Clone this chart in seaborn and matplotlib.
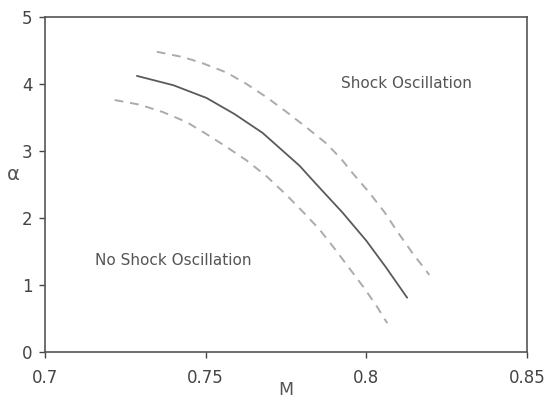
import matplotlib
matplotlib.use("Agg")
import matplotlib.pyplot as plt
import seaborn as sns
import pandas as pd

# Boundary of the shock-oscillation onset region (alpha vs Mach number)
mach_mid = [0.7286, 0.7400, 0.7503, 0.7590, 0.7677, 0.7792,
            0.7845, 0.7926, 0.8000, 0.8060, 0.8127]
alpha_mid = [4.12, 3.98, 3.79, 3.55, 3.27, 2.78,
             2.50, 2.08, 1.66, 1.27, 0.81]

mach_upper = [0.7348, 0.7430, 0.7490, 0.7565, 0.7627, 0.7690, 0.7752,
              0.7814, 0.7876, 0.7922, 0.7957, 0.8009, 0.8056, 0.8096,
              0.8143, 0.8196]
alpha_upper = [4.48, 4.40, 4.31, 4.17, 4.00, 3.80, 3.58,
               3.35, 3.11, 2.88, 2.67, 2.38, 2.09, 1.80,
               1.48, 1.15]

mach_lower = [0.7217, 0.7295, 0.7367, 0.7441, 0.7503, 0.7565, 0.7627,
              0.7690, 0.7752, 0.7801, 0.7854, 0.7900, 0.7947, 0.7994,
              0.8034, 0.8065]
alpha_lower = [3.76, 3.69, 3.58, 3.43, 3.25, 3.06, 2.86,
               2.62, 2.34, 2.10, 1.83, 1.55, 1.25, 0.95,
               0.67, 0.43]

x_ticks = [0.7, 0.75, 0.8, 0.85]
x_tick_labels = ["0.7", "0.75", "0.8", "0.85"]
y_ticks = [0, 1, 2, 3, 4, 5]

sns.set_style("ticks")
plt.rcParams["font.family"] = ["DejaVu Sans"]

fig = plt.figure(figsize=(5.5, 4.03), dpi=100)
ax = fig.add_axes([0.0818, 0.1266, 0.8764, 0.8314])

df_mid = pd.DataFrame({"M": mach_mid, "alpha": alpha_mid})
df_up = pd.DataFrame({"M": mach_upper, "alpha": alpha_upper})
df_lo = pd.DataFrame({"M": mach_lower, "alpha": alpha_lower})

sns.lineplot(data=df_mid, x="M", y="alpha", ax=ax, color="#5a5a5a",
             linewidth=1.3, sort=False)
for d in (df_up, df_lo):
    sns.lineplot(data=d, x="M", y="alpha", ax=ax, color="#ababab",
                 linewidth=1.4, sort=False, dashes=False,
                 linestyle=(0, (4.5, 3.5)))

ax.text(0.8124, 4.0, "Shock Oscillation", ha="center", va="center",
        fontsize=11, color="#555555")
ax.text(0.7400, 1.36, "No Shock Oscillation", ha="center", va="center",
        fontsize=11, color="#555555")

ax.set_xlim(0.7, 0.85)
ax.set_ylim(0, 5)
ax.set_xticks(x_ticks)
ax.set_xticklabels(x_tick_labels)
ax.set_yticks(y_ticks)
ax.tick_params(axis="both", labelsize=12, colors="#444444", length=4,
               width=1, direction="out", pad=5)
ax.tick_params(axis="x", pad=8)
ax.set_xlabel("M", fontsize=12.5, color="#555555", va="center")
ax.xaxis.set_label_coords(0.5, -0.112)
ax.set_ylabel("α", fontsize=14, color="#555555", rotation=0)
ax.yaxis.set_label_coords(-0.065, 0.5)

for s in ax.spines.values():
    s.set_color("#555555")
    s.set_linewidth(1.2)

fig.savefig("out.png", dpi=100)
